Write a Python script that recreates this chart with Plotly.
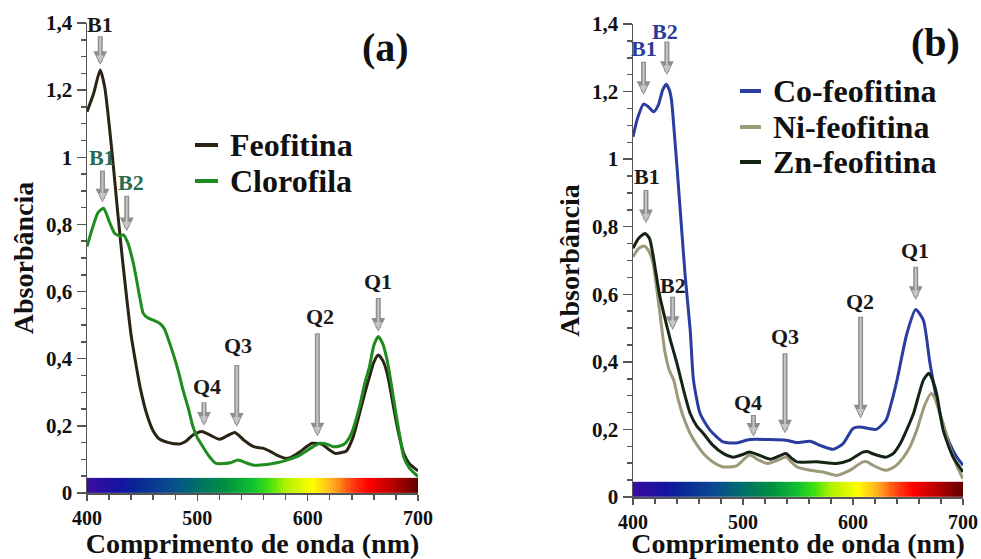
import numpy as np
import plotly.graph_objects as go

# ---------------- data ----------------
wl_feo = [400, 406, 412, 416, 420, 424, 428, 432, 436, 440, 444, 448, 454, 460, 466, 474, 484, 490, 496, 504,
          512, 520, 527, 534, 542, 551, 560, 566, 572, 581, 587, 593, 604, 613, 619, 625, 630, 635, 641, 647,
          652, 656, 660, 664, 668, 672, 676, 680, 684, 687, 692, 700]
abs_feo = [1.136, 1.19, 1.26, 1.21, 1.10, 0.97, 0.83, 0.70, 0.58, 0.47, 0.39, 0.317, 0.237, 0.185, 0.160, 0.150,
           0.146, 0.155, 0.173, 0.183, 0.172, 0.160, 0.170, 0.180, 0.158, 0.138, 0.133, 0.124, 0.113, 0.103,
           0.110, 0.123, 0.148, 0.145, 0.130, 0.118, 0.120, 0.125, 0.165, 0.237, 0.300, 0.346, 0.390, 0.411,
           0.395, 0.357, 0.290, 0.217, 0.155, 0.118, 0.088, 0.066]

wl_clo = [400, 405, 410, 415, 420, 425, 430, 433, 437, 442, 445, 448, 451, 455, 460, 466, 470, 474, 478, 483,
          487, 492, 496, 500, 505, 511, 517, 524, 530, 537, 544, 551, 563, 572, 581, 593, 605, 611, 617, 623,
          629, 634, 640, 647, 652, 656, 660, 664, 668, 672, 676, 680, 684, 687, 692, 700]
abs_clo = [0.734, 0.79, 0.835, 0.848, 0.81, 0.774, 0.765, 0.769, 0.745, 0.684, 0.634, 0.58, 0.535, 0.522,
           0.515, 0.505, 0.49, 0.455, 0.416, 0.36, 0.307, 0.25, 0.198, 0.165, 0.138, 0.108, 0.088, 0.088,
           0.090, 0.098, 0.090, 0.083, 0.085, 0.090, 0.098, 0.113, 0.138, 0.148, 0.146, 0.138, 0.140, 0.148,
           0.18, 0.257, 0.33, 0.376, 0.44, 0.466, 0.445, 0.396, 0.32, 0.237, 0.16, 0.108, 0.075, 0.049]

wl_co = [400, 404, 409.6, 414, 418.7, 423, 427, 430.2, 433, 435, 437.5, 440, 444.5, 447.5, 452, 455, 461,
         470, 482, 494, 506, 525, 539, 549, 561, 570, 582, 591, 600, 606, 614, 621, 630, 635, 640, 649, 657,
         664, 670, 679, 688, 694, 700]
abs_co = [1.066, 1.12, 1.163, 1.155, 1.140, 1.16, 1.205, 1.222, 1.205, 1.175, 1.08, 0.977, 0.780, 0.652,
          0.494, 0.346, 0.247, 0.198, 0.163, 0.160, 0.170, 0.170, 0.168, 0.161, 0.165, 0.153, 0.141, 0.158,
          0.203, 0.207, 0.203, 0.200, 0.227, 0.28, 0.346, 0.484, 0.555, 0.523, 0.395, 0.247, 0.158, 0.12, 0.094]

wl_ni = [400, 405, 410, 414, 418, 421, 425, 429, 433, 437, 441, 446, 452, 458, 464, 472, 482, 494, 501, 506,
         514, 522, 531, 539, 545, 549, 561, 573, 585, 597, 609, 613, 618, 630, 638, 646, 652, 658, 665, 671,
         674, 679, 684, 688, 694, 700]
abs_ni = [0.711, 0.735, 0.743, 0.73, 0.695, 0.63, 0.53, 0.43, 0.375, 0.346, 0.29, 0.235, 0.188, 0.155, 0.129,
          0.105, 0.089, 0.092, 0.112, 0.124, 0.11, 0.099, 0.108, 0.118, 0.10, 0.089, 0.079, 0.074, 0.064,
          0.079, 0.104, 0.104, 0.094, 0.079, 0.09, 0.118, 0.15, 0.198, 0.27, 0.306, 0.295, 0.247, 0.195,
          0.148, 0.095, 0.054]

wl_zn = [400, 405, 411, 415, 418, 421, 424, 428, 434, 440, 446, 452, 458, 464, 472, 482, 491, 499, 506, 515,
         525, 532, 539, 544, 549, 567, 585, 597, 609, 614, 618, 630, 637, 643, 649, 655, 664, 669, 673, 676,
         682, 691, 700]
abs_zn = [0.736, 0.765, 0.780, 0.765, 0.72, 0.66, 0.60, 0.543, 0.464, 0.395, 0.316, 0.247, 0.21, 0.188, 0.155,
          0.129, 0.118, 0.125, 0.133, 0.123, 0.112, 0.12, 0.129, 0.115, 0.104, 0.104, 0.099, 0.109, 0.133,
          0.134, 0.128, 0.118, 0.13, 0.158, 0.20, 0.247, 0.346, 0.366, 0.34, 0.306, 0.198, 0.118, 0.074]

y_tickvals = [0, 0.2, 0.4, 0.6, 0.8, 1.0, 1.2, 1.4]
y_ticktext = ["0", "0,2", "0,4", "0,6", "0,8", "1", "1,2", "1,4"]
x_tickvals = [400, 500, 600, 700]
x_ticktext = ["400", "500", "600", "700"]

names_a = ["Feofitina", "Clorofila"]
colors_a = ["#2b2414", "#1e8c1e"]
names_b = ["Co-feofitina", "Ni-feofitina", "Zn-feofitina"]
colors_b = ["#2a3c9e", "#9c9a7a", "#142414"]

# visible spectrum strip
band_edges = list(range(400, 701, 2))
band_height = [0, 0.045]
spectrum_scale = [
    [0.00, "#3c0ca0"], [0.10, "#1414a0"], [0.15, "#0a2896"], [0.25, "#0a4a90"],
    [0.32, "#006a70"], [0.42, "#009040"], [0.50, "#10c030"], [0.55, "#40e010"],
    [0.60, "#b0f000"], [0.68, "#ffff00"], [0.74, "#ffb020"], [0.80, "#ff4010"],
    [0.85, "#ff0000"], [0.93, "#b00000"], [1.00, "#600000"],
]

# peak labels: (text, x, y, arrow_top, arrow_bottom, arrow_x, color)
labels_a = [
    ("B1", 412, 1.395, 1.365, 1.275, 412, "#1a1a1a"),
    ("B1", 414, 1.0, 0.965, 0.865, 414, "#2a6a50"),
    ("B2", 440, 0.926, 0.89, 0.78, 436, "#2a6a50"),
    ("Q4", 508.5, 0.317, 0.275, 0.20, 506, "#1a1a1a"),
    ("Q3", 537, 0.44, 0.386, 0.197, 535.7, "#1a1a1a"),
    ("Q2", 611, 0.527, 0.48, 0.168, 608.8, "#1a1a1a"),
    ("Q1", 664, 0.63, 0.585, 0.48, 664, "#1a1a1a"),
]
labels_b = [
    ("B1", 410.3, 1.328, 1.293, 1.19, 409.6, "#2a3a9a"),
    ("B2", 429.3, 1.377, 1.353, 1.249, 430.8, "#2a3a9a"),
    ("B1", 412.7, 0.948, 0.913, 0.81, 411.8, "#1a1a1a"),
    ("B2", 436.8, 0.627, 0.597, 0.494, 436, "#1a1a1a"),
    ("Q4", 504.9, 0.281, 0.247, 0.178, 509.5, "#1a1a1a"),
    ("Q3", 538.2, 0.474, 0.43, 0.188, 538.2, "#1a1a1a"),
    ("Q2", 606.3, 0.578, 0.538, 0.232, 606.9, "#1a1a1a"),
    ("Q1", 656.2, 0.731, 0.686, 0.583, 657, "#1a1a1a"),
]

FONT = "Liberation Serif, Times New Roman, serif"
W, H = 981, 559

fig = go.Figure()

band_centers = [(band_edges[i] + band_edges[i + 1]) / 2 for i in range(len(band_edges) - 1)]
for xa, ya in (("x", "y"), ("x2", "y2")):
    fig.add_trace(go.Heatmap(
        x=band_edges, y=band_height, z=[band_centers], zmin=400, zmax=700,
        colorscale=spectrum_scale, showscale=False, hoverinfo="skip",
        xaxis=xa, yaxis=ya, showlegend=False))

def line(x, y, name, color, xa, ya):
    return go.Scatter(x=x, y=y, mode="lines", name=name, showlegend=False,
                      line=dict(color=color, width=3, shape="spline", smoothing=0.6),
                      xaxis=xa, yaxis=ya)

fig.add_trace(line(wl_feo, abs_feo, names_a[0], colors_a[0], "x", "y"))
fig.add_trace(line(wl_clo, abs_clo, names_a[1], colors_a[1], "x", "y"))
fig.add_trace(line(wl_co, abs_co, names_b[0], colors_b[0], "x2", "y2"))
fig.add_trace(line(wl_ni, abs_ni, names_b[1], colors_b[1], "x2", "y2"))
fig.add_trace(line(wl_zn, abs_zn, names_b[2], colors_b[2], "x2", "y2"))

annotations = []
shapes = []
for labels, xr, yr in ((labels_a, "x", "y"), (labels_b, "x2", "y2")):
    for text, tx, ty, atop, abot, axx, col in labels:
        # outlined grey arrow: darker wide arrow with a lighter core
        annotations.append(dict(x=axx, y=abot, ax=axx, ay=atop, xref=xr, yref=yr, axref=xr, ayref=yr,
                                text="", showarrow=True, arrowhead=2, arrowsize=0.55, arrowwidth=5,
                                arrowcolor="#8e8e8e", standoff=0, startstandoff=0))
        annotations.append(dict(x=axx, y=abot, ax=axx, ay=atop, xref=xr, yref=yr, axref=xr, ayref=yr,
                                text="", showarrow=True, arrowhead=2, arrowsize=0.75, arrowwidth=2,
                                arrowcolor="#c6c6c6", standoff=2, startstandoff=1))
        annotations.append(dict(x=tx, y=ty, xref=xr, yref=yr, text="<b>%s</b>" % text, showarrow=False,
                                font=dict(family=FONT, size=22, color=col),
                                xanchor="center", yanchor="middle"))

annotations.append(dict(x=385 / W, y=1 - 47 / H, xref="paper", yref="paper", text="<b>(a)</b>",
                        showarrow=False, xanchor="center", yanchor="middle",
                        font=dict(family=FONT, size=40, color="#111")))
annotations.append(dict(x=935 / W, y=1 - 43 / H, xref="paper", yref="paper", text="<b>(b)</b>",
                        showarrow=False, xanchor="center", yanchor="middle",
                        font=dict(family=FONT, size=40, color="#111")))

# legend blocks (line sample + label), placed in pixel space of the canvas
def legend_block(names, colors, x0, x1, xt, ys):
    for name, col, yy in zip(names, colors, ys):
        shapes.append(dict(type="line", xref="paper", yref="paper", x0=x0 / W, x1=x1 / W,
                           y0=1 - yy / H, y1=1 - yy / H, line=dict(color=col, width=4)))
        annotations.append(dict(x=xt / W, y=1 - yy / H, xref="paper", yref="paper", text="<b>%s</b>" % name,
                                showarrow=False, xanchor="left", yanchor="middle",
                                font=dict(family=FONT, size=32, color="#111")))

legend_block(names_a, colors_a, 195, 218, 228, [145, 181])
legend_block(names_b, colors_b, 740, 761, 771, [91, 127, 162])

ytickfont = dict(family=FONT, size=21, color="#111")
xtickfont = dict(family=FONT, size=20, color="#111")
titlefont = dict(family=FONT, size=28, color="#111")

def xaxis(domain, anchor):
    return dict(domain=domain, anchor=anchor, range=[400, 700], tickvals=x_tickvals,
                ticktext=["<b>%s</b>" % t for t in x_ticktext], automargin=False,
                ticks="outside", ticklen=6, tickwidth=1.5, tickcolor="#555", showline=True, linecolor="#555",
                linewidth=1.5, showgrid=False, zeroline=False, tickfont=xtickfont,
                minor=dict(dtick=20, tick0=400, ticks="outside", ticklen=5, tickcolor="#555", tickwidth=1.5),
                title=dict(text="<b>Comprimento de onda (nm)</b>", font=titlefont, standoff=1))

def yaxis(domain, anchor):
    return dict(domain=domain, anchor=anchor, range=[0, 1.4], tickvals=y_tickvals,
                ticktext=["<b>%s</b>" % t for t in y_ticktext], automargin=False,
                ticks="outside", ticklen=9, tickwidth=1.5, tickcolor="#555", showline=True, linecolor="#555",
                linewidth=1.5, showgrid=False, zeroline=False, tickfont=ytickfont,
                minor=dict(dtick=0.05, tick0=0, ticks="outside", ticklen=5, tickcolor="#555", tickwidth=1.5),
                title=dict(text="<b>Absorbância</b>", font=titlefont, standoff=4))

fig.update_layout(
    width=W, height=H, margin=dict(l=0, r=0, t=0, b=0, autoexpand=False),
    paper_bgcolor="white", plot_bgcolor="white",
    font=dict(family=FONT, color="#111"),
    showlegend=False, hovermode=False,
    xaxis=xaxis([87 / W, 418 / W], "y"),
    yaxis=yaxis([1 - 493 / H, 1 - 23 / H], "x"),
    xaxis2=xaxis([633 / W, 963 / W], "y2"),
    yaxis2=yaxis([1 - 497 / H, 1 - 24 / H], "x2"),
    annotations=annotations,
    shapes=shapes,
)

fig.write_html("out.html", config={"displayModeBar": False, "staticPlot": True},
               post_script="document.body.style.margin='0';document.body.style.overflow='hidden';")
